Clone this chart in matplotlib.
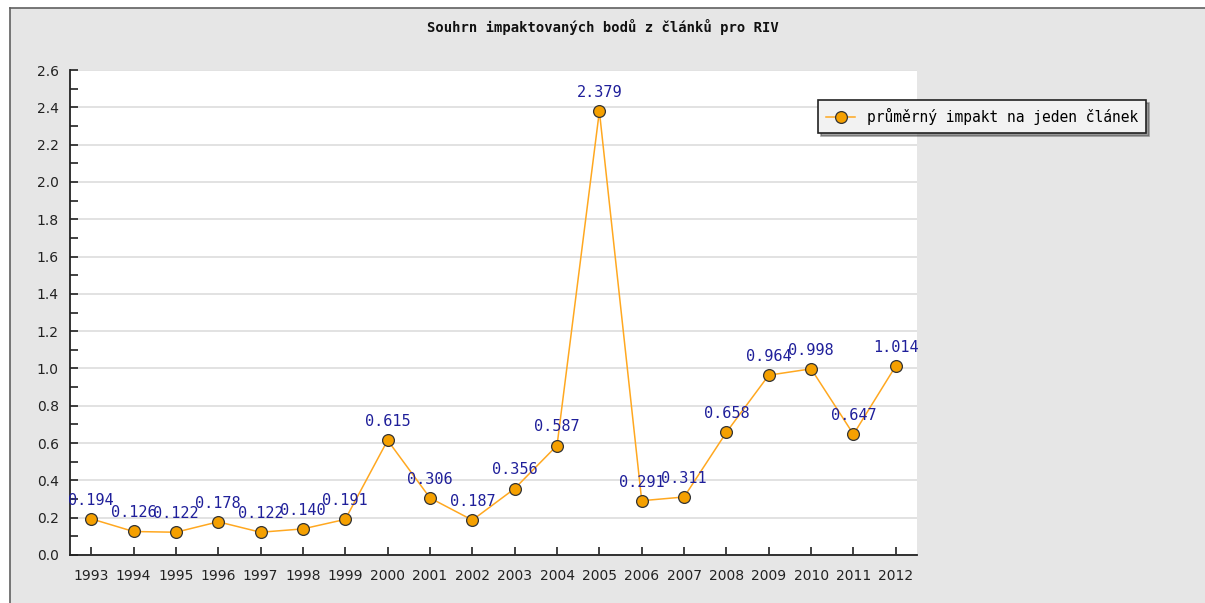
import matplotlib.pyplot as plt
from matplotlib.patches import Rectangle
from matplotlib.ticker import MultipleLocator

# Data
years = ['1993', '1994', '1995', '1996', '1997', '1998', '1999', '2000', '2001', '2002',
         '2003', '2004', '2005', '2006', '2007', '2008', '2009', '2010', '2011', '2012']
impact = [0.194, 0.126, 0.122, 0.178, 0.122, 0.140, 0.191, 0.615, 0.306, 0.187,
          0.356, 0.587, 2.379, 0.291, 0.311, 0.658, 0.964, 0.998, 0.647, 1.014]

W, H = 1205, 603
fig = plt.figure(figsize=(W / 100, H / 100), dpi=100)
fig.patch.set_facecolor('white')

# grey panel with dark left/top border
fig.patches.append(Rectangle((10 / W, 0), 1, 1 - 8 / H, transform=fig.transFigure,
                             facecolor='#e6e6e6', edgecolor='none', zorder=-5))
fig.lines.append(plt.Line2D([10 / W, 10 / W], [0, 1 - 8 / H], transform=fig.transFigure,
                            color='#606060', lw=1.2, zorder=-4))
fig.lines.append(plt.Line2D([10 / W, 1], [1 - 8 / H, 1 - 8 / H], transform=fig.transFigure,
                            color='#606060', lw=1.2, zorder=-4))

ax = fig.add_axes([70 / W, 1 - 555 / H, (917 - 70) / W, (555 - 70) / H])
ax.set_zorder(2)
ax.set_facecolor('white')

x = list(range(len(years)))
ax.plot(x, impact, color='#ffa820', lw=1.1, marker='o', markersize=8.5,
        markerfacecolor='#f5a000', markeredgecolor='#333333', markeredgewidth=0.9,
        label='průměrný impakt na jeden článek', zorder=3)

for xi, v in zip(x, impact):
    ax.annotate(f'{v:.3f}', (xi, v), xytext=(0, 8), textcoords='offset points',
                ha='center', va='bottom', color='#1f1f9a', fontsize=11,
                family='DejaVu Sans Mono', zorder=4, annotation_clip=False)

ax.set_xlim(-0.5, len(years) - 0.5)
ax.set_ylim(0, 2.6)
ax.set_xticks(x)
ax.set_xticklabels(years)
ax.yaxis.set_major_locator(MultipleLocator(0.2))
ax.yaxis.set_minor_locator(MultipleLocator(0.1))
ax.yaxis.set_major_formatter(plt.FuncFormatter(lambda v, p: f'{v:.1f}'))
ax.grid(axis='y', color='#dddddd', lw=1.2)
ax.set_axisbelow(True)

for s in ['top', 'right']:
    ax.spines[s].set_visible(False)
for s in ['left', 'bottom']:
    ax.spines[s].set_color('#222222')
    ax.spines[s].set_linewidth(1.3)

ax.tick_params(axis='both', which='both', direction='in', length=6, width=1.2,
               color='#222222', labelsize=10, labelcolor='#222222')
ax.tick_params(axis='x', pad=10)
ax.tick_params(axis='y', pad=8)

fig.text(0.5, 1 - 27 / H, 'Souhrn impaktovaných bodů z článků pro RIV', ha='center', va='center',
         fontsize=10, fontweight='bold', family='DejaVu Sans Mono', color='#111111')

leg = fig.legend(loc='upper left', bbox_to_anchor=(811 / W, 1 - 93 / H), frameon=True,
                 fancybox=False, shadow=True, prop={'family': 'DejaVu Sans Mono', 'size': 10.5},
                 handlelength=2.0, borderpad=0.55, markerscale=1.0)
leg.get_frame().set_edgecolor('#222222')
leg.get_frame().set_facecolor('#f2f2f2')
leg.get_frame().set_linewidth(1.2)
leg.set_zorder(5)

fig.savefig('out.png', dpi=100)
